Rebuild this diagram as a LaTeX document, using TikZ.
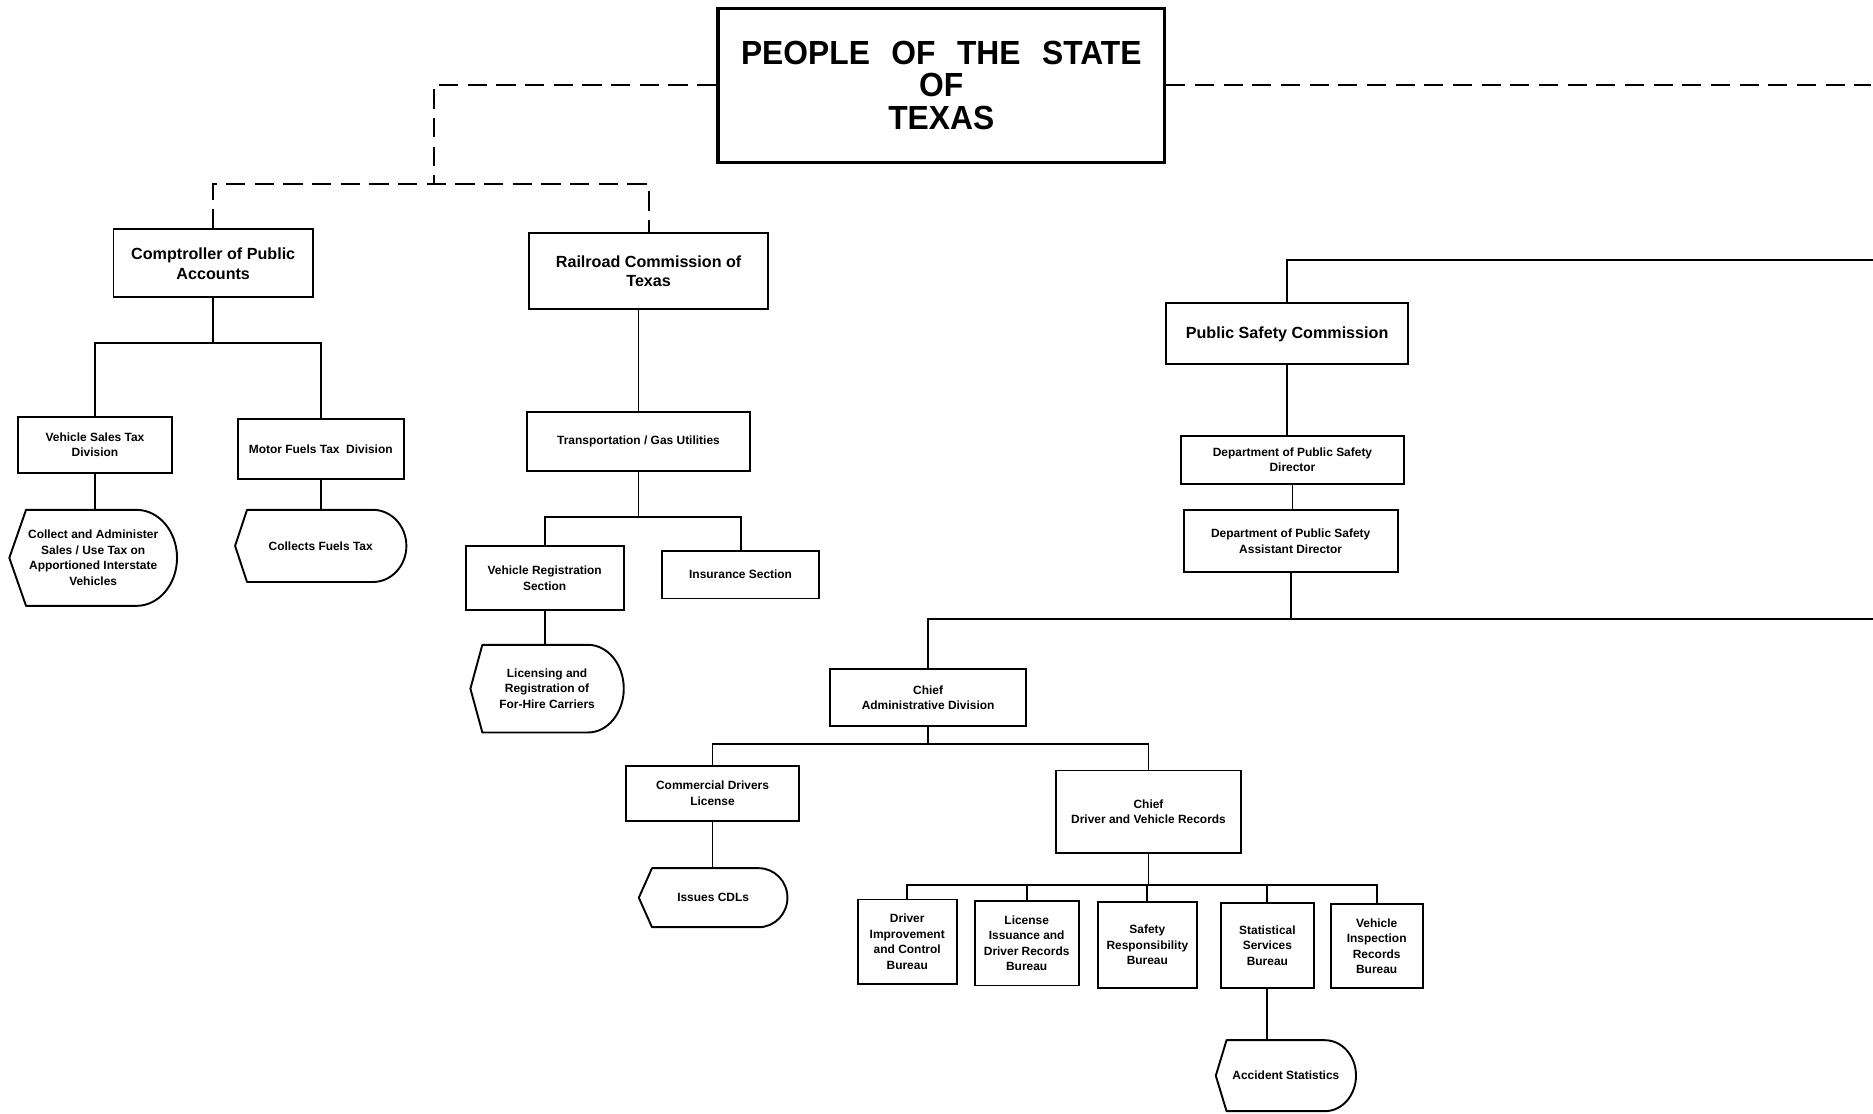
\documentclass[tikz,border=0pt]{standalone}
\usepackage{fontspec}
\setmainfont{Liberation Sans}
\newfontfamily\titlefont[FakeStretch=0.95]{Liberation Sans}
\usetikzlibrary{calc}
\tikzset{
  box/.style={draw, line width=1.6pt, rectangle, inner sep=0pt, align=center, font=\bfseries\fontsize{10}{13}\selectfont},
  midbox/.style={box, font=\bfseries\fontsize{13.5}{16.5}\selectfont},
  titlebox/.style={draw, line width=2.8pt, rectangle, inner sep=0pt, align=center, font=\titlefont\bfseries\fontsize{28}{27.5}\selectfont},
  disp/.style={rectangle, inner sep=0pt, align=center, font=\bfseries\fontsize{10}{13}\selectfont},
  conn/.style={line width=1.6pt},
  dconn/.style={line width=1.6pt, dash pattern=on 16pt off 8pt},
  shapeline/.style={line width=1.6pt, line join=round}
}
% display-shape outline: node name, corner offset, right radius
\newcommand{\dispoutline}[3]{%
  \draw[shapeline] let \p1=(#1.north), \p2=(#1.south), \n1={0.5*(\y1-\y2)} in
    ([xshift=#2]#1.north west) -- ([xshift=-#3]#1.north east)
    arc[start angle=90, end angle=-90, x radius=#3, y radius=\n1]
    -- ([xshift=#2]#1.south west) -- (#1.west) -- cycle;}
\begin{document}
\begin{tikzpicture}[x=1pt, y=-1pt]
\useasboundingbox (0,0) rectangle (1568,932);

% ---- nodes ----
\node[titlebox, minimum width=374pt, minimum height=129pt] (title) at (788,71.5)
  {PEOPLE\hspace{18pt}OF\hspace{18pt}THE\hspace{18pt}STATE\\OF\\TEXAS};

\node[midbox, minimum width=167pt, minimum height=57pt] (comp) at (178.5,220.5) {Comptroller of Public\\Accounts};
\node[midbox, minimum width=200pt, minimum height=64pt] (rail) at (543,227) {Railroad Commission of\\Texas};
\node[midbox, minimum width=203pt, minimum height=51pt] (psc) at (1077.5,279.5) {Public Safety Commission};

\node[box, minimum width=129pt, minimum height=47pt] (vst) at (79.5,372.5) {Vehicle Sales Tax\\Division};
\node[box, minimum width=139pt, minimum height=50pt] (mft) at (268.5,376) {Motor Fuels Tax\ \ Division};
\node[disp, minimum width=140pt, minimum height=80pt] (collect) at (78,467) {Collect and Administer\\Sales / Use Tax on\\Apportioned Interstate\\Vehicles};
\node[disp, minimum width=143pt, minimum height=60pt] (fuels) at (268.5,457) {Collects Fuels Tax};

\node[box, minimum width=187pt, minimum height=49pt] (trans) at (534.5,369.5) {Transportation / Gas Utilities};
\node[box, minimum width=132pt, minimum height=54pt] (vreg) at (456,484) {Vehicle Registration\\Section};
\node[box, minimum width=132pt, minimum height=40pt] (ins) at (620,481) {Insurance Section};
\node[disp, minimum width=128pt, minimum height=73pt] (lic) at (458,576.5) {Licensing and\\Registration of\\For-Hire Carriers};

\node[box, minimum width=186pt, minimum height=40pt] (dir) at (1082,385) {Department of Public Safety\\Director};
\node[box, minimum width=179pt, minimum height=52pt] (asst) at (1080.5,453) {Department of Public Safety\\Assistant Director};

\node[box, minimum width=164pt, minimum height=48pt] (admin) at (777,584) {Chief\\Administrative Division};
\node[box, minimum width=145pt, minimum height=46pt] (cdl) at (596.5,664) {Commercial Drivers\\License};
\node[disp, minimum width=124pt, minimum height=49pt] (cdls) at (597,751.5) {Issues CDLs};
\node[box, minimum width=155pt, minimum height=69pt] (dvr) at (961.5,679.5) {Chief\\Driver and Vehicle Records};

\node[box, minimum width=83pt, minimum height=71pt] (bu1) at (759.5,788.5) {Driver\\Improvement\\and Control\\Bureau};
\node[box, minimum width=87pt, minimum height=71pt] (bu2) at (859.5,789.5) {License\\Issuance and\\Driver Records\\Bureau};
\node[box, minimum width=83pt, minimum height=72pt] (bu3) at (960.5,791) {Safety\\Responsibility\\Bureau};
\node[box, minimum width=78pt, minimum height=71pt] (bu4) at (1061,791.5) {Statistical\\Services\\Bureau};
\node[box, minimum width=77pt, minimum height=70pt] (bu5) at (1152.5,792) {Vehicle\\Inspection\\Records\\Bureau};
\node[disp, minimum width=117pt, minimum height=59pt] (acc) at (1076.5,900.5) {Accident Statistics};

% ---- display outlines ----
\dispoutline{collect}{14pt}{34pt}
\dispoutline{fuels}{10pt}{28pt}
\dispoutline{lic}{10pt}{30pt}
\dispoutline{cdls}{11pt}{24pt}
\dispoutline{acc}{9pt}{26pt}

% ---- bus coordinates ----
\coordinate (dbusL) at (363,154);
\coordinate (redgeA) at (1566,71.5);
\coordinate (redgeB) at (1568,218);
\coordinate (redgeC) at (1568,518);
\coordinate (bcomp) at (178.5,287);
\coordinate (btrans) at (534.5,433);
\coordinate (badmin) at (777,623);
\coordinate (bdvr) at (961.5,741);

% ---- dashed connectors ----
\draw[dconn] (title.west) -| (dbusL);
\draw[dconn] (comp.north) |- (dbusL) -| (rail.north);
\draw[dconn] (title.east) -- (redgeA);

% ---- solid connectors ----
\draw[conn] (comp.south) -- (bcomp);
\draw[conn] (vst.north) |- (bcomp) -| (mft.north);
\draw[conn] (vst.south) -- (vst.south |- collect.north);
\draw[conn] (mft.south) -- (fuels.north);

\draw[conn] (trans.north |- rail.south) -- (trans.north);
\draw[conn] (trans.south) -- (btrans);
\draw[conn] (vreg.north) |- (btrans) -| (ins.north);
\draw[conn] (vreg.south) -- (vreg.south |- lic.north);

\draw[conn] (psc.north) |- (redgeB);
\draw[conn] (psc.south) -- (psc.south |- dir.north);
\draw[conn] (dir.south) -- (dir.south |- asst.north);
\draw[conn] (asst.south) -- (asst.south |- redgeC);
\draw[conn] (admin.north) |- (redgeC);

\draw[conn] (admin.south) -- (badmin);
\draw[conn] (cdl.north) |- (badmin) -| (dvr.north);
\draw[conn] (cdl.south) -- (cdl.south |- cdls.north);

\draw[conn] (dvr.south) -- (bdvr);
\draw[conn] (bu1.north) |- (bdvr) -| (bu5.north);
\draw[conn] (bu2.north) -- (bu2.north |- bdvr);
\draw[conn] (bu3.north) -- (bu3.north |- bdvr);
\draw[conn] (bu4.north) -- (bu4.north |- bdvr);
\draw[conn] (bu4.south) -- (bu4.south |- acc.north);
\end{tikzpicture}
\end{document}
